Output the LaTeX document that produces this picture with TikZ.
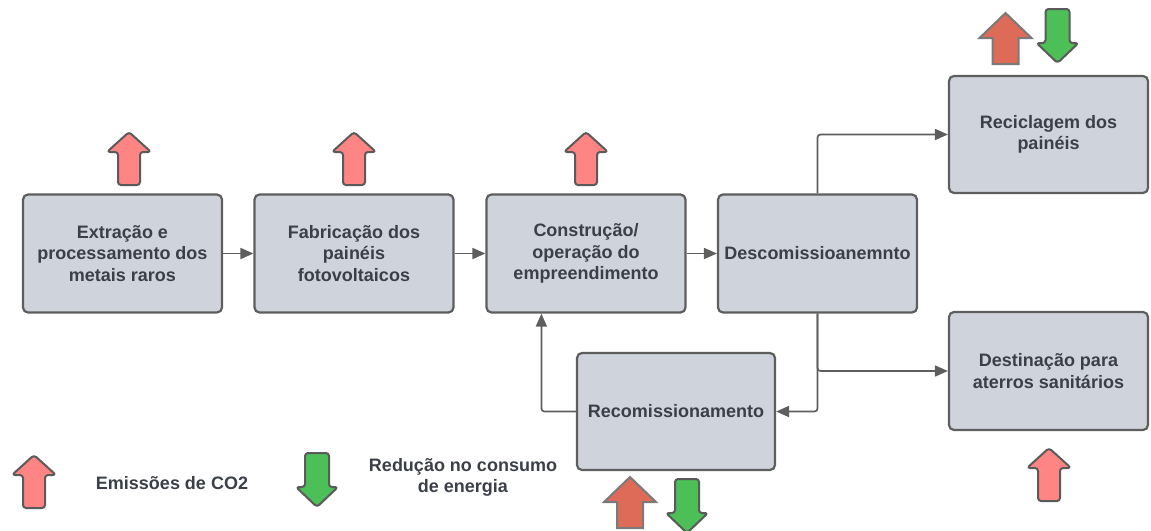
\documentclass[tikz,border=0pt]{standalone}
\usepackage{fontspec}
\setmainfont{Liberation Sans}
\usetikzlibrary{arrows.meta,calc}
\definecolor{boxfill}{HTML}{CED3DC}
\definecolor{boxline}{HTML}{5E5E5E}
\definecolor{txt}{HTML}{3B3F48}
\definecolor{pinkA}{HTML}{FF8585}
\definecolor{redA}{HTML}{DE6A58}
\definecolor{greenA}{HTML}{4CBF56}
\definecolor{arrline}{HTML}{5A5A5A}
\definecolor{redline}{HTML}{7A7A7A}
\newcommand{\emisup}[2]{\draw[pinkarrow] (#1,#2) -- ++(22,20) -- ++(-11,0) -- ++(0,33) -- ++(-22,0) -- ++(0,-33) -- ++(-11,0) -- cycle;}
\newcommand{\redup}[2]{\draw[redarrow] (#1,#2) -- ++(26,25) -- ++(-13,0) -- ++(0,26) -- ++(-26,0) -- ++(0,-26) -- ++(-13,0) -- cycle;}
\newcommand{\greendown}[2]{\draw[greenarrow] (#1,#2) -- ++(21,-20) -- ++(-9,0) -- ++(0,-34) -- ++(-24,0) -- ++(0,34) -- ++(-9,0) -- cycle;}
\begin{document}
\begin{tikzpicture}[x=1pt,y=-1pt,
  stage/.style={draw=boxline,fill=boxfill,line width=2.2pt,rounded corners=5pt,
    minimum width=199pt,minimum height=118pt,inner sep=2pt,align=center,
    text=txt,font=\fontsize{18}{21.5}\selectfont\bfseries},
  legendtext/.style={text=txt,align=center,font=\fontsize{18}{21.5}\selectfont\bfseries},
  conn/.style={draw=boxline,line width=1.7pt,rounded corners=3pt,-{Triangle[length=13pt,width=11pt]}},
  pinkarrow/.style={fill=pinkA,draw=arrline,line width=2pt,rounded corners=3pt,line join=round},
  redarrow/.style={fill=redA,draw=redline,line width=2pt,line join=miter},
  greenarrow/.style={fill=greenA,draw=arrline,line width=2pt,rounded corners=3pt,line join=round}]
\useasboundingbox (0,0) rectangle (1151,530);
\clip (0,0) rectangle (1151,530);
\node[stage] (b1) at (122.5,253.5) {Extração e\\processamento dos\\metais raros};
\node[stage] (b2) at (354,253.5) {Fabricação dos\\painéis\\fotovoltaicos};
\node[stage] (b3) at (586,253.5) {Construção/\\operação do\\empreendimento};
\node[stage] (b4) at (817.5,253.5) {Descomissioanemnto};
\node[stage,minimum height=117pt] (b5) at (1048.5,134.5) {Reciclagem dos\\painéis};
\node[stage] (b6) at (1048.5,371) {Destinação para\\aterros sanitários};
\node[stage,minimum width=198pt,minimum height=117pt] (b7) at (676,411.5) {Recomissionamento};
\draw[conn] (b1.east) -- (b2.west);
\draw[conn] (b2.east) -- (b3.west);
\draw[conn] (b3.east) -- (b4.west);
\draw[conn] (b4.north) |- (b5.west);
\draw[conn] (b4.south) |- (b6.west);
\draw[conn] (b4.south) |- (b7.east);
\draw[conn] (b7.west) -| ([xshift=56pt]b3.south west);
\emisup{129}{132}
\emisup{354}{132}
\emisup{586}{132}
\emisup{1049}{448}
\redup{1005.5}{13}
\greendown{1057.5}{63}
\redup{630}{477}
\greendown{687}{533}
\emisup{34}{455}
\greendown{317}{507}
\node[legendtext] (l1) at (172,483) {Emissões de CO2};
\node[legendtext] (l2) at (463,477.5) {Redução no consumo\\de energia};
\end{tikzpicture}
\end{document}
